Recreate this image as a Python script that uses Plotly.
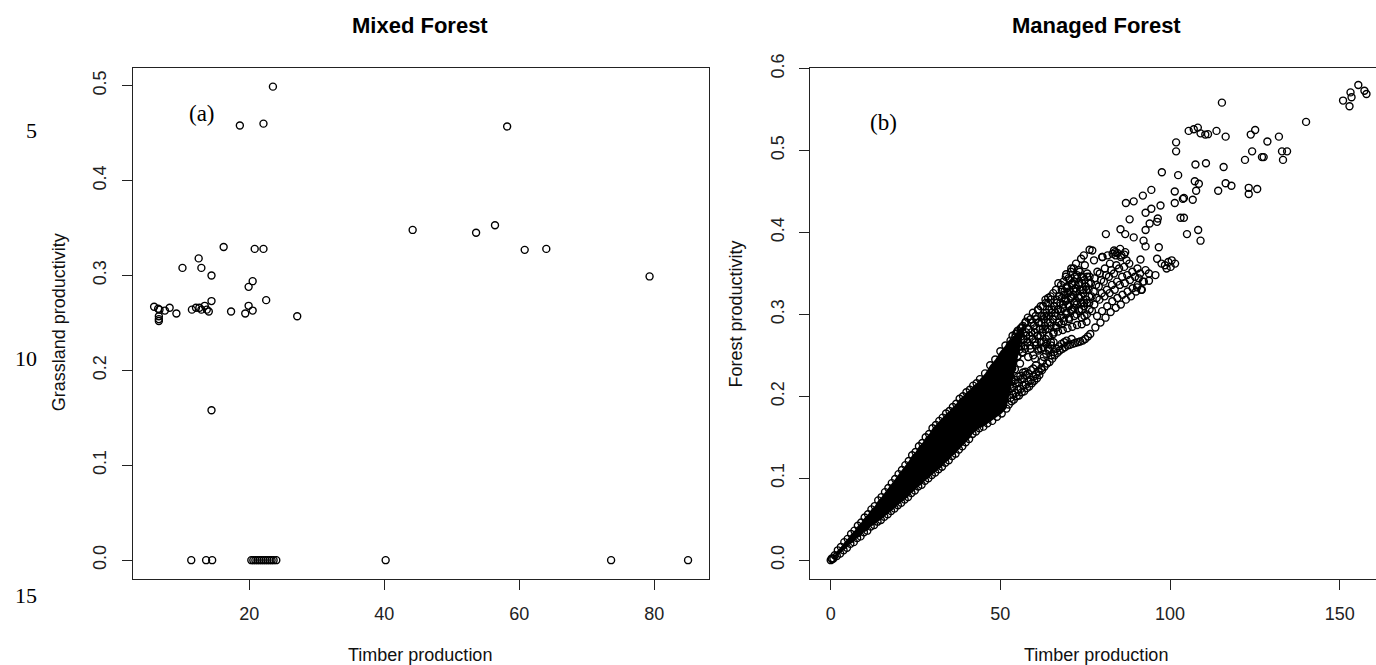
import plotly.graph_objects as go

W, H = 1376, 665

# ---------------- Panel (a): Mixed Forest ----------------
mixed_timber = [5.9, 6.5, 6.7, 7.5, 8.2, 9.2, 6.6, 6.6, 6.6, 11.5, 12.1, 12.6, 12.9, 13.4, 13.7, 14.0,
                14.4, 17.3, 19.4, 19.9, 20.5, 22.5, 27.1, 10.1, 12.5, 12.9, 14.4, 16.2, 19.9, 20.5,
                20.8, 22.1, 14.4, 18.6, 22.1, 23.5, 44.2, 53.6, 56.4, 58.2, 60.8, 64.0, 79.3,
                11.4, 13.6, 14.5, 20.3, 20.6, 20.9, 21.2, 21.5, 21.8, 22.1, 22.4, 22.7, 23.0, 23.3,
                23.6, 24.0, 40.2, 73.6, 85.0]
mixed_grass = [0.267, 0.265, 0.264, 0.263, 0.266, 0.260, 0.257, 0.254, 0.252, 0.264, 0.266, 0.266, 0.264, 0.268, 0.264, 0.262,
               0.273, 0.262, 0.260, 0.268, 0.263, 0.274, 0.257, 0.308, 0.318, 0.308, 0.300, 0.330, 0.288, 0.294,
               0.328, 0.328, 0.158, 0.458, 0.460, 0.499, 0.348, 0.345, 0.353, 0.457, 0.327, 0.328, 0.299,
               0.0, 0.0, 0.0, 0.0, 0.0, 0.0, 0.0, 0.0, 0.0, 0.0, 0.0, 0.0, 0.0, 0.0,
               0.0, 0.0, 0.0, 0.0, 0.0]

mixed_xticks = [20, 40, 60, 80]
mixed_yticks = [0.0, 0.1, 0.2, 0.3, 0.4, 0.5]
mixed_yticktext = ["0.0", "0.1", "0.2", "0.3", "0.4", "0.5"]

# ---------------- Panel (b): Managed Forest ----------------
# edges of the saturated (solid black) part of the point cloud
core_upper_timber = [0.3, 1.2, 2.1, 3.0, 4.0, 5.0, 6.0, 7.0, 8.0, 9.0, 10.0, 11.0, 12.0, 13.0, 14.0, 15.0,
                     16.0, 17.0, 18.0, 19.0, 20.0, 21.0, 22.0, 23.0, 24.0, 25.0, 26.0, 27.0, 28.0, 29.0,
                     30.0, 31.0, 32.0, 33.0, 34.0, 35.0, 36.0, 37.0, 38.0, 39.0, 40.0, 41.0, 42.0, 43.0,
                     44.0, 45.5, 47.0, 48.5, 50.0, 51.5, 53.0, 54.5, 56.0, 57.5]
core_upper_forest = [0.002, 0.006, 0.012, 0.016, 0.022, 0.026, 0.032, 0.036, 0.042, 0.046, 0.052, 0.056, 0.062, 0.066, 0.073, 0.077,
                     0.083, 0.088, 0.094, 0.099, 0.105, 0.110, 0.116, 0.121, 0.128, 0.132, 0.139, 0.143, 0.150, 0.154,
                     0.161, 0.165, 0.170, 0.174, 0.179, 0.182, 0.187, 0.191, 0.197, 0.200, 0.205, 0.208, 0.213, 0.216,
                     0.221, 0.228, 0.238, 0.245, 0.255, 0.262, 0.268, 0.276, 0.283, 0.291]
core_lower_timber = [0.8, 1.8, 2.8, 3.8, 4.8, 5.8, 6.8, 7.8, 8.8, 9.8, 10.8, 11.8, 12.8, 13.8, 14.8, 15.8,
                     16.8, 17.8, 18.8, 19.8, 20.8, 21.8, 22.8, 23.8, 24.8, 25.8, 26.8, 27.8, 28.8, 29.8,
                     30.8, 31.8, 32.8, 33.8, 34.8, 35.8, 36.8, 37.8, 38.8, 39.8, 40.8, 41.8, 42.8, 43.8,
                     45.0, 46.2, 47.6, 49.0, 50.4, 51.8]
core_lower_forest = [0.002, 0.005, 0.008, 0.012, 0.015, 0.020, 0.022, 0.027, 0.029, 0.034, 0.036, 0.041, 0.043, 0.047, 0.049, 0.053,
                     0.056, 0.060, 0.063, 0.067, 0.070, 0.074, 0.077, 0.082, 0.085, 0.090, 0.092, 0.097, 0.100, 0.104,
                     0.107, 0.111, 0.114, 0.119, 0.122, 0.127, 0.130, 0.135, 0.139, 0.144, 0.148, 0.154, 0.157, 0.161,
                     0.163, 0.167, 0.170, 0.175, 0.179, 0.185]

# textured part of the cloud (first set of columns)
cloud_timber = [
    52.5, 53.0, 52.2, 52.9, 52.0, 52.7, 52.3, 53.1, 52.1, 52.8,
    54.0, 54.5, 53.7, 54.4, 53.5, 54.2, 53.8, 54.6, 53.6,
    55.5, 56.0, 55.2, 55.9, 55.0, 55.7, 55.3, 56.1, 55.1,
    57.0, 57.5, 56.7, 57.4, 56.5, 57.2, 56.8, 57.6, 56.6,
    58.5, 59.0, 58.2, 58.9, 58.0, 58.7, 58.3, 59.1, 58.1,
    60.0, 60.5, 59.7, 60.4, 59.5, 60.2, 59.8, 60.6, 59.6,
    61.5, 62.0, 61.2, 61.9, 61.0, 61.7, 61.3, 62.1, 61.1,
    63.0, 63.5, 62.7, 63.4, 62.5, 63.2, 62.8, 63.6, 62.6, 63.3,
    64.5, 65.0, 64.2, 64.9, 64.0, 64.7, 64.3, 65.1, 64.1, 64.8,
    66.0, 66.5, 65.7, 66.4, 65.5, 66.2, 65.8, 66.6, 65.6,
    67.5, 68.0, 67.2, 67.9, 67.0, 67.7, 67.3, 68.1, 67.1,
    69.0, 69.5, 68.7, 69.4, 68.5, 69.2, 68.8, 69.6, 68.6, 69.3,
    70.5, 71.0, 70.2, 70.9, 70.0, 70.7, 70.3, 71.1, 70.1, 70.8,
    72.0, 72.5, 71.7, 72.4, 71.5, 72.2, 71.8, 72.6, 71.6, 72.3,
    73.5, 74.0, 73.2, 73.9, 73.0, 73.7, 73.3, 74.1, 73.1, 73.8,
    75.0, 75.5, 74.7, 75.4, 74.5, 75.2, 74.8, 75.6, 74.6,
    76.5, 77.0, 76.2, 76.9, 76.0, 76.7, 76.3, 77.1,
    78.0, 78.5, 77.7, 78.4, 77.5, 78.2, 77.8, 78.6, 77.6,
    79.5, 80.0, 79.2, 79.9, 79.0, 79.7, 79.3, 80.1,
    81.0, 81.5, 80.7, 81.4, 80.5, 81.2, 80.8, 81.6,
    82.5, 83.0, 82.2, 82.9, 82.0, 82.7, 82.3, 83.1,
    84.0, 84.5, 83.7, 84.4, 83.5, 84.2, 83.8,
    85.5, 86.0, 85.2, 85.9, 85.0, 85.7, 85.3,
    87.0, 87.5, 86.7, 87.4, 86.5, 87.2, 86.8,
    88.5, 89.0, 88.2, 88.9, 88.0,
    90.0, 90.5, 89.7, 90.4,
    91.5, 92.0, 91.2]
cloud_forest = [
    0.190, 0.198, 0.206, 0.214, 0.222, 0.230, 0.238, 0.246, 0.254, 0.262,
    0.196, 0.204, 0.212, 0.220, 0.244, 0.252, 0.260, 0.268, 0.274,
    0.201, 0.209, 0.217, 0.225, 0.249, 0.257, 0.265, 0.273, 0.280,
    0.206, 0.214, 0.222, 0.230, 0.254, 0.262, 0.270, 0.278, 0.286,
    0.212, 0.220, 0.228, 0.258, 0.266, 0.274, 0.282, 0.290, 0.296,
    0.219, 0.227, 0.234, 0.262, 0.270, 0.278, 0.286, 0.294, 0.302,
    0.226, 0.234, 0.256, 0.266, 0.274, 0.282, 0.290, 0.298, 0.306,
    0.236, 0.252, 0.260, 0.270, 0.278, 0.286, 0.294, 0.302, 0.310, 0.318,
    0.242, 0.250, 0.258, 0.266, 0.282, 0.290, 0.298, 0.306, 0.314, 0.322,
    0.250, 0.258, 0.266, 0.286, 0.294, 0.302, 0.310, 0.318, 0.326,
    0.256, 0.264, 0.290, 0.298, 0.306, 0.314, 0.322, 0.330, 0.338,
    0.260, 0.268, 0.292, 0.300, 0.308, 0.316, 0.324, 0.332, 0.340, 0.346,
    0.263, 0.270, 0.296, 0.304, 0.312, 0.320, 0.328, 0.336, 0.344, 0.352,
    0.265, 0.300, 0.308, 0.316, 0.324, 0.332, 0.340, 0.348, 0.356, 0.362,
    0.267, 0.296, 0.306, 0.314, 0.322, 0.330, 0.338, 0.346, 0.354, 0.368,
    0.270, 0.300, 0.310, 0.318, 0.326, 0.334, 0.342, 0.350, 0.372,
    0.276, 0.304, 0.314, 0.322, 0.330, 0.338, 0.346, 0.378,
    0.284, 0.298, 0.312, 0.320, 0.328, 0.336, 0.344, 0.352, 0.366,
    0.290, 0.304, 0.318, 0.326, 0.334, 0.342, 0.350, 0.370,
    0.296, 0.310, 0.322, 0.330, 0.340, 0.348, 0.356, 0.372,
    0.303, 0.316, 0.326, 0.336, 0.346, 0.354, 0.362, 0.374,
    0.308, 0.320, 0.330, 0.340, 0.350, 0.360, 0.376,
    0.312, 0.324, 0.336, 0.346, 0.356, 0.372, 0.380,
    0.318, 0.328, 0.338, 0.348, 0.358, 0.366, 0.376,
    0.322, 0.332, 0.342, 0.352, 0.362,
    0.328, 0.336, 0.346, 0.356,
    0.330, 0.340, 0.350]

# textured part of the cloud (interleaved second set of columns)
cloud2_timber = [
    53.3, 53.8, 53.0, 53.6, 52.9, 53.5, 53.1, 53.9, 53.2, 53.4,
    54.8, 55.3, 54.5, 55.2, 54.3, 55.0, 54.6, 55.4, 54.4, 54.9,
    56.3, 56.8, 56.0, 56.7, 55.8, 56.5, 56.1, 56.9, 55.9, 56.4,
    57.8, 58.3, 57.5, 58.2, 57.3, 58.0, 57.6, 58.4, 57.4,
    59.3, 59.8, 59.0, 59.7, 58.8, 59.5, 59.1, 59.9, 58.9,
    60.8, 61.3, 60.5, 61.2, 60.3, 61.0, 60.6, 61.4, 60.4, 61.1,
    62.3, 62.8, 62.0, 62.7, 61.8, 62.5, 62.1, 62.9, 61.9,
    63.8, 64.3, 63.5, 64.2, 63.3, 64.0, 63.6, 64.4, 63.4, 64.1,
    65.3, 65.8, 65.0, 65.7, 64.8, 65.5, 65.1, 65.9, 64.9,
    66.8, 67.3, 66.5, 67.2, 66.3, 67.0, 66.6, 67.4, 66.4,
    68.3, 68.8, 68.0, 68.7, 67.8, 68.5, 68.1, 68.9, 67.9,
    69.8, 70.3, 69.5, 70.2, 69.3, 70.0, 69.6, 70.4, 69.4,
    71.3, 71.8, 71.0, 71.7, 70.8, 71.5, 71.1, 71.9, 70.9,
    72.8, 73.3, 72.5, 73.2, 72.3, 73.0, 72.6, 73.4,
    74.3, 74.8, 74.0, 74.7, 73.8, 74.5, 74.1, 74.9,
    75.8, 76.3, 75.5, 76.2, 75.3, 76.0, 75.6,
    64.2, 65.6, 67.0, 68.4, 69.8, 71.2, 72.6, 74.0, 75.4, 62.4, 60.2]
cloud2_forest = [
    0.194, 0.202, 0.210, 0.218, 0.226, 0.234, 0.242, 0.250, 0.258, 0.265,
    0.200, 0.208, 0.216, 0.224, 0.233, 0.248, 0.256, 0.264, 0.272, 0.278,
    0.205, 0.213, 0.221, 0.229, 0.240, 0.253, 0.261, 0.269, 0.277, 0.284,
    0.210, 0.218, 0.226, 0.248, 0.258, 0.266, 0.274, 0.282, 0.290,
    0.216, 0.224, 0.232, 0.250, 0.262, 0.270, 0.278, 0.286, 0.294,
    0.222, 0.230, 0.238, 0.258, 0.266, 0.274, 0.282, 0.290, 0.298, 0.305,
    0.232, 0.248, 0.258, 0.266, 0.274, 0.282, 0.290, 0.298, 0.310,
    0.240, 0.256, 0.264, 0.274, 0.282, 0.290, 0.298, 0.306, 0.314, 0.320,
    0.246, 0.254, 0.262, 0.278, 0.286, 0.294, 0.302, 0.310, 0.318,
    0.253, 0.261, 0.284, 0.290, 0.298, 0.306, 0.314, 0.322, 0.330,
    0.258, 0.266, 0.288, 0.296, 0.304, 0.312, 0.320, 0.328, 0.336,
    0.262, 0.294, 0.302, 0.310, 0.318, 0.326, 0.334, 0.342, 0.349,
    0.264, 0.298, 0.306, 0.314, 0.322, 0.330, 0.338, 0.346, 0.356,
    0.266, 0.304, 0.312, 0.320, 0.328, 0.336, 0.344, 0.352,
    0.268, 0.298, 0.306, 0.314, 0.322, 0.330, 0.338, 0.360,
    0.273, 0.306, 0.314, 0.322, 0.330, 0.338, 0.346,
    0.274, 0.276, 0.279, 0.281, 0.283, 0.285, 0.287, 0.288, 0.291, 0.243, 0.246]

# isolated points in the upper part
sparse_timber = [0.0, 0.4,
                 92.8, 93.8, 90.8, 92.3, 93.8, 90.3, 91.7, 95.7, 96.2, 98.5, 99.5, 100.5, 101.5, 99.0, 100.2, 97.5,
                 91.3, 96.7, 83.5, 84.5, 85.5, 86.5, 84.0, 80.0, 76.3,
                 81.1, 85.4, 86.8, 89.3, 88.1, 87.0, 89.3, 92.0, 94.5, 97.6, 102.4, 101.4, 101.4, 103.8, 97.2,
                 94.5, 92.8, 96.4, 96.2, 94.0, 92.8, 103.1, 104.1, 108.3, 105.0, 109.0, 92.2, 92.8,
                 101.8, 101.8, 107.5, 110.6, 115.8, 107.3, 108.5, 107.7, 114.2, 116.4, 118.1, 123.2, 123.2,
                 125.7, 104.1, 106.7,
                 115.3, 140.1, 155.5, 157.3, 157.9, 153.2, 153.5, 151.0, 152.9, 105.5, 107.0, 108.2, 109.0,
                 110.4, 111.2, 113.7, 116.4, 123.8, 125.1, 128.7, 132.1, 124.2, 127.1, 127.6, 122.1, 133.0,
                 134.5, 133.3]
sparse_forest = [0.0, 0.001,
                 0.354, 0.350, 0.344, 0.340, 0.341, 0.333, 0.330, 0.348, 0.368, 0.360, 0.364, 0.366, 0.362, 0.356, 0.358, 0.362,
                 0.367, 0.382, 0.378, 0.375, 0.370, 0.373, 0.372, 0.370, 0.379,
                 0.398, 0.404, 0.398, 0.394, 0.416, 0.436, 0.438, 0.445, 0.452, 0.4735, 0.470, 0.450, 0.436, 0.441, 0.433,
                 0.429, 0.424, 0.417, 0.413, 0.411, 0.403, 0.418, 0.418, 0.403, 0.398, 0.390, 0.390, 0.383,
                 0.510, 0.499, 0.483, 0.4845, 0.480, 0.4626, 0.4594, 0.451, 0.451, 0.460, 0.457, 0.4545, 0.447,
                 0.453, 0.442, 0.440,
                 0.5585, 0.535, 0.580, 0.573, 0.569, 0.571, 0.565, 0.561, 0.554, 0.524, 0.526, 0.528, 0.521,
                 0.5195, 0.520, 0.524, 0.517, 0.5195, 0.525, 0.511, 0.517, 0.499, 0.492, 0.492, 0.4886, 0.499,
                 0.499, 0.4886]

managed_xticks = [0, 50, 100, 150]
managed_yticks = [0.0, 0.1, 0.2, 0.3, 0.4, 0.5, 0.6]
managed_yticktext = ["0.0", "0.1", "0.2", "0.3", "0.4", "0.5", "0.6"]

# ---------------- figure ----------------
SANS = "Liberation Sans, Arial, sans-serif"
SERIF = "Liberation Serif, Times New Roman, serif"
INK = "#111111"
marker = dict(symbol="circle-open", size=7, color="black", line=dict(width=1.4, color="black"))

fig = go.Figure()

fig.add_trace(go.Scatter(x=mixed_timber, y=mixed_grass, mode="markers", marker=marker,
                         xaxis="x", yaxis="y", showlegend=False, hoverinfo="skip"))

core_x = core_upper_timber + core_lower_timber[::-1]
core_y = core_upper_forest + core_lower_forest[::-1]
fig.add_trace(go.Scatter(x=core_x, y=core_y, mode="lines", fill="toself", fillcolor="black",
                         line=dict(width=0, color="black"), xaxis="x2", yaxis="y2",
                         showlegend=False, hoverinfo="skip"))
for xs, ys in [(core_upper_timber, core_upper_forest), (core_lower_timber, core_lower_forest),
               (cloud_timber, cloud_forest), (cloud2_timber, cloud2_forest),
               (sparse_timber, sparse_forest)]:
    fig.add_trace(go.Scatter(x=xs, y=ys, mode="markers", marker=marker,
                             xaxis="x2", yaxis="y2", showlegend=False, hoverinfo="skip"))

def px_x(p):
    return p / W

def px_y(p):
    return 1 - p / H

axis_common = dict(showgrid=False, zeroline=False, showline=True, linecolor="#222", linewidth=1.3,
                   ticks="outside", ticklen=10, tickwidth=1.2, tickcolor="#222",
                   tickfont=dict(family=SANS, size=18, color="#222"))

y_dom = [px_y(576.9), px_y(54.8)]

fig.update_layout(
    width=W, height=H, margin=dict(l=0, r=0, t=0, b=0),
    paper_bgcolor="white", plot_bgcolor="white",
    xaxis=dict(domain=[px_x(132.7), px_x(708.7)], range=[2.726, 88.06], tickvals=mixed_xticks,
               mirror=True, anchor="y", ticklabelstandoff=8, **axis_common),
    yaxis=dict(domain=y_dom, range=[-0.0196, 0.519], tickvals=mixed_yticks, ticktext=mixed_yticktext,
               tickangle=-90, mirror=True, anchor="x", ticklabelstandoff=8, **axis_common),
    xaxis2=dict(domain=[px_x(810), 1.0], range=[-6.10, 160.71], tickvals=managed_xticks,
                mirror=True, anchor="y2", ticklabelstandoff=8, **axis_common),
    yaxis2=dict(domain=y_dom, range=[-0.0227, 0.6012], tickvals=managed_yticks, ticktext=managed_yticktext,
                tickangle=-90, mirror=False, anchor="x2", ticklabelstandoff=8, **axis_common),
)

ann = []
def add_text(text, x, y, size, family=SANS, angle=0, color=INK, xanchor="center"):
    ann.append(dict(text=text, x=px_x(x), y=px_y(y), xref="paper", yref="paper", showarrow=False,
                    xanchor=xanchor, yanchor="middle", textangle=angle,
                    font=dict(family=family, size=size, color=color)))

add_text("<b>Mixed Forest</b>", 420, 12, 22, color="black")
add_text("<b>Managed Forest</b>", 1096, 12, 22, color="black")
add_text("Timber production", 420, 655, 18)
add_text("Timber production", 1096, 655, 18)
add_text("Grassland productivity", 59, 315, 18, angle=-90)
add_text("Forest productivity", 736, 306, 18, angle=-90)
add_text("(a)", 202, 102, 23, family=SERIF, color="black")
add_text("(b)", 883, 111, 23, family=SERIF, color="black")
add_text("5", 39, 119, 22, family=SERIF, color="black", xanchor="right")
add_text("10", 39, 352, 22, family=SERIF, color="black", xanchor="right")
add_text("15", 39, 594, 22, family=SERIF, color="black", xanchor="right")
fig.update_layout(annotations=ann)

fig.write_html("out.html")
